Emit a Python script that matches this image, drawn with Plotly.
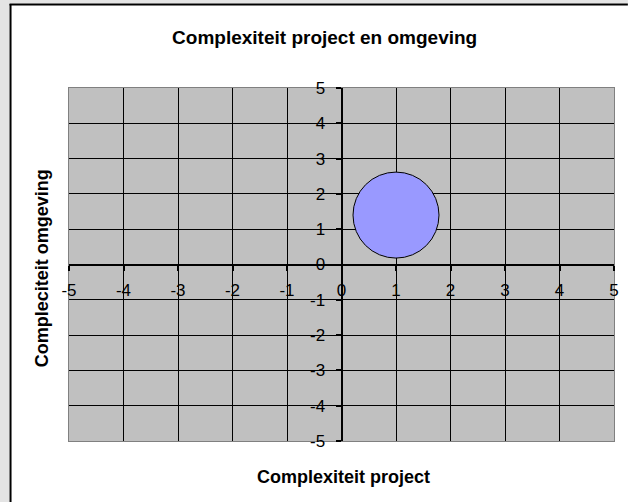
import plotly.graph_objects as go

# ---- data ----
title_text = "Complexiteit project en omgeving"
x_title = "Complexiteit project"
y_title = "Compleciteit omgeving"
bubble_x = [1]
bubble_y = [1.4]
bubble_size = [1]
tick_vals = [-5, -4, -3, -2, -1, 0, 1, 2, 3, 4, 5]
tick_text = ["-5", "-4", "-3", "-2", "-1", "0", "1", "2", "3", "4", "5"]

W, H = 628, 502
L, R, T, B = 69, 9, 88, 61
pw, ph = W - L - R, H - T - B

def px2x(px):
    return (px - L) / pw

def py2y(py):
    return (H - B - py) / ph

FONT = "Liberation Sans, Arial, sans-serif"
TICKF = dict(family=FONT, size=17, color="black")

fig = go.Figure()
fig.add_trace(go.Scatter(
    x=bubble_x, y=bubble_y, mode="markers",
    marker=dict(size=[s * 86 for s in bubble_size], sizemode="diameter",
                color="#9999FF", line=dict(color="black", width=1), opacity=1),
    hoverinfo="skip", showlegend=False, xaxis="x", yaxis="y"))
# invisible trace to activate the crossing axes
fig.add_trace(go.Scatter(x=[None], y=[None], mode="markers", showlegend=False,
                         hoverinfo="skip", xaxis="x2", yaxis="y2"))

rng = [-5, 5]
fig.update_layout(
    width=W, height=H,
    margin=dict(l=L, r=R, t=T, b=B, pad=0),
    paper_bgcolor="white", plot_bgcolor="#C0C0C0",
    font=dict(family=FONT, size=17, color="black"),
    title=dict(text="<b>" + title_text + "</b>", x=px2x(327), xref="paper", xanchor="center",
               y=1 - 37 / H, yref="container", yanchor="middle",
               font=dict(family=FONT, size=19, color="black")),
    xaxis=dict(range=rng, tickvals=tick_vals, showticklabels=False, ticks="",
               showgrid=True, gridcolor="black", gridwidth=1,
               zeroline=False, showline=True, linecolor="#808080", linewidth=1,
               mirror=True, fixedrange=True),
    yaxis=dict(range=rng, tickvals=tick_vals, showticklabels=False, ticks="",
               showgrid=True, gridcolor="black", gridwidth=1,
               zeroline=False, showline=True, linecolor="#808080", linewidth=1,
               mirror=True, fixedrange=True),
    xaxis2=dict(range=rng, overlaying="x", anchor="free", position=0.5, side="bottom",
                tickvals=tick_vals, ticktext=tick_text, ticks="outside", ticklen=5,
                tickwidth=2, tickcolor="black", showgrid=False, zeroline=False,
                showline=True, linecolor="black", linewidth=2, ticklabelstandoff=5,
                tickfont=TICKF, fixedrange=True),
    yaxis2=dict(range=rng, overlaying="y", anchor="free", position=0.5, side="left",
                tickvals=tick_vals, ticktext=tick_text, ticks="outside", ticklen=5,
                tickwidth=2, tickcolor="black", showgrid=False, zeroline=False,
                showline=True, linecolor="black", linewidth=2, ticklabelstandoff=7,
                tickfont=TICKF, fixedrange=True),
    annotations=[
        dict(text="<b>" + x_title + "</b>", xref="paper", yref="paper",
             x=px2x(346), y=py2y(477), xanchor="center", yanchor="middle", showarrow=False,
             font=dict(family=FONT, size=18, color="black")),
        dict(text="<b>" + y_title + "</b>", xref="paper", yref="paper",
             x=px2x(42), y=py2y(268), xanchor="center", yanchor="middle", showarrow=False,
             textangle=-90, font=dict(family=FONT, size=18, color="black")),
    ],
    shapes=[
        dict(type="rect", xref="paper", yref="paper", x0=px2x(-2), x1=px2x(9),
             y0=py2y(H + 5), y1=py2y(-5), fillcolor="#E4E4E4", line=dict(width=0), layer="below"),
        dict(type="rect", xref="paper", yref="paper", x0=px2x(-2), x1=px2x(W + 5),
             y0=py2y(3.5), y1=py2y(-5), fillcolor="#E4E4E4", line=dict(width=0), layer="below"),
        dict(type="line", xref="paper", yref="paper", x0=px2x(10), x1=px2x(10),
             y0=py2y(H + 5), y1=py2y(4), line=dict(color="black", width=2)),
        dict(type="line", xref="paper", yref="paper", x0=px2x(9), x1=px2x(W + 5),
             y0=py2y(4.5), y1=py2y(4.5), line=dict(color="black", width=2)),
    ],
)

fig.write_html("out.html", config={"displayModeBar": False},
               post_script="document.body.style.margin='0';document.body.style.padding='0';")
